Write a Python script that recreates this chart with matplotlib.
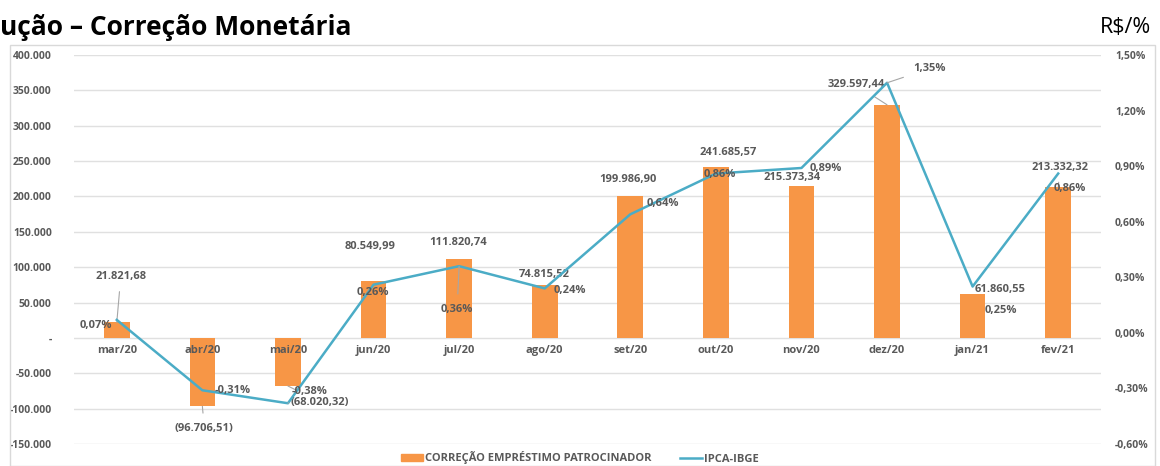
import numpy as np
import matplotlib.pyplot as plt
from matplotlib.patches import Rectangle
from matplotlib.lines import Line2D
from matplotlib.patches import Patch

plt.rcParams['font.family'] = ['Open Sans', 'DejaVu Sans']

meses = ['mar/20', 'abr/20', 'mai/20', 'jun/20', 'jul/20', 'ago/20',
         'set/20', 'out/20', 'nov/20', 'dez/20', 'jan/21', 'fev/21']
correcao = [21821.68, -96706.51, -68020.32, 80549.99, 111820.74, 74815.52,
            199986.90, 241685.57, 215373.34, 329597.44, 61860.55, 213332.32]
ipca = [0.07, -0.31, -0.38, 0.26, 0.36, 0.24, 0.64, 0.86, 0.89, 1.35, 0.25, 0.86]

# label offsets in pixels (dx, dy) and whether a leader line is drawn
off_bar = [(4, 46, 1), (2, -22, 1), (32, -16, 1), (-3, 34, 0), (-1, 16, 0), (0, 10, 0),
           (-2, 17, 0), (12, 14, 0), (-9, 8, 0), (-31, 20, 1), (28, 5, 0), (2, 20, 1)]
off_pct = [(-21, -6, 0), (30, 0, 0), (22, 12, 1), (-1, -8, 0), (-2, -43, 1), (25, -2, 0),
           (33, 11, 0), (4, -1, 0), (24, -1, 0), (42, 14, 1), (28, -24, 0), (12, -15, 0)]

laranja = '#F79646'
azul = '#4BACC6'
cinza = '#595959'


def fmt_num(v):
    s = f'{abs(v):,.2f}'.replace(',', 'X').replace('.', ',').replace('X', '.')
    return f'({s})' if v < 0 else s


fig = plt.figure(figsize=(11.6, 4.66), dpi=100)
fig.patches.append(Rectangle((10 / 1160, 0), 1145 / 1160, (466 - 45) / 466,
                             transform=fig.transFigure, fill=False,
                             edgecolor='#D9D9D9', lw=1))
fig.text(0.0, 0.94, 'ução – Correção Monetária', fontsize=19, fontweight='bold',
         ha='left', va='center', color='black')
fig.text(0.992, 0.94, 'R$/%', fontsize=15.5, ha='right', va='center', color='black')

ax = fig.add_axes([74 / 1160, 22 / 466, 1027 / 1160, 389 / 466])
ax2 = ax.twinx()

x = np.arange(len(meses))
ax.bar(x, correcao, width=0.3, color=laranja, zorder=2)
ax.set_ylim(-150000, 400000)
ax.set_xlim(-0.5, 11.5)
ax.set_yticks(np.arange(-150000, 400001, 50000))
ax.set_yticklabels([('-' if t == 0 else f'{t:,.0f}'.replace(',', '.'))
                    for t in np.arange(-150000, 400001, 50000)])
ax.grid(axis='y', color='#E0E0E0', lw=1, zorder=0)
ax.set_xticks([])

ax2.plot(x, ipca, color=azul, lw=1.8, zorder=3)
ax2.set_ylim(-0.6, 1.5)
ax2.set_yticks(np.arange(-0.6, 1.51, 0.3))
ax2.set_yticklabels([f'{t:.2f}%'.replace('.', ',') for t in np.arange(-0.6, 1.51, 0.3)])

for a in (ax, ax2):
    for s in a.spines.values():
        s.set_visible(False)
    a.tick_params(length=0, labelsize=7.5, labelcolor=cinza)
    for lab in a.get_yticklabels():
        lab.set_fontweight('bold')
ax.tick_params(axis='y', pad=16)
ax2.tick_params(axis='y', pad=10)

for i, m in enumerate(meses):
    ax.annotate(m, (i, 0), xytext=(0, -13), textcoords='offset pixels',
                ha='center', va='center', fontsize=8, fontweight='bold', color=cinza)

leader = dict(arrowstyle='-', color='#A6A6A6', lw=0.8, shrinkA=5, shrinkB=0)

for i, v in enumerate(correcao):
    dx, dy, ld = off_bar[i]
    ax.annotate(fmt_num(v), (i, v), xytext=(dx, dy), textcoords='offset pixels',
                ha='center', va='center', fontsize=8, fontweight='bold', color=cinza,
                zorder=5, annotation_clip=False, arrowprops=leader if ld else None)

for i, p in enumerate(ipca):
    dx, dy, ld = off_pct[i]
    lab = f'{p:.2f}%'.replace('.', ',')
    ax2.annotate(lab, (i, p), xytext=(dx, dy), textcoords='offset pixels',
                 ha='center', va='center', fontsize=8, fontweight='bold', color=cinza,
                 zorder=5, arrowprops=leader if ld else None)

handles = [Patch(color=laranja), Line2D([], [], color=azul, lw=1.8)]
fig.legend(handles, ['CORREÇÃO EMPRÉSTIMO PATROCINADOR', 'IPCA-IBGE'],
           loc='center', bbox_to_anchor=(0.5, 8 / 466), ncol=2, frameon=False,
           handlelength=2.0, handleheight=0.6, columnspacing=2.5,
           handletextpad=0.2, labelcolor=cinza, prop={'weight': 'bold', 'size': 8})

fig.savefig('out.png', dpi=100)
